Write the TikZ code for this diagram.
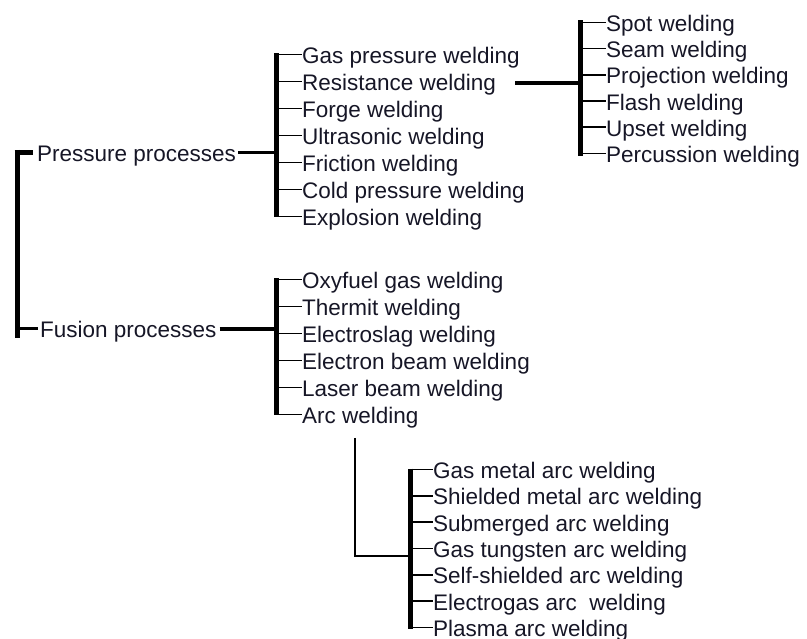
\documentclass[tikz,border=0pt]{standalone}
\usepackage{fontspec}
\setmainfont{Liberation Sans}
\usetikzlibrary{calc}
\definecolor{ink}{RGB}{22,22,38}
\begin{document}
\begin{tikzpicture}[x=1pt,y=-1pt,
  item/.style={anchor=west, inner sep=0pt, text height=18pt, text depth=0pt,
    font=\fontsize{22.5}{27}\selectfont, text=ink},
  bar/.style={line width=5pt, draw=black},
  stub/.style={line width=1.6pt, draw=black},
  link/.style={line width=4pt, draw=black},
  thinlink/.style={line width=2pt, draw=black}]
\useasboundingbox (0,0) rectangle (807,639);

% top level
\node[item] (press) at (37,152.5) {Pressure processes};
\node[item] (fus)   at (40,329)   {Fusion processes};
\coordinate (rootbar) at (17,0);
\draw[bar] (rootbar|-press.west) ++(0,-2.5) -- ($(rootbar|-fus.west)+(0,9)$);
\draw[bar] ($(rootbar|-press.west)+(-2.5,0)$) -- ($(press.west)+(-4,0)$);
\draw[line width=3pt] (rootbar|-fus.west) -- ($(fus.west)+(-2,0)$);

% pressure processes
\foreach \n/\t [count=\i from 0] in {pa/Gas pressure welding, pb/Resistance welding,
    pc/Forge welding, pd/Ultrasonic welding, pe/Friction welding,
    pf/Cold pressure welding, pg/Explosion welding}
  \node[item] (\n) at (302,{54.5+27*\i}) {\t};
\coordinate (pbar) at (276,0);
\draw[bar] ($(pbar|-pa.west)+(0,-1)$) -- ($(pbar|-pg.west)+(0,1)$);
\foreach \n in {pa,pb,pc,pd,pe,pf,pg}
  \draw[stub] (pbar|-\n.west) -- (\n.west);
\draw[line width=3pt] (press.east) ++(2,0) -- (pbar|-press.east);

% resistance welding
\foreach \n/\t [count=\i from 0] in {ra/Spot welding, rb/Seam welding,
    rc/Projection welding, rd/Flash welding, re/Upset welding,
    rf/Percussion welding}
  \node[item] (\n) at (606,{22.5+26.2*\i}) {\t};
\coordinate (rbar) at (580,0);
\draw[bar] ($(rbar|-ra.west)+(0,-2)$) -- ($(rbar|-rf.west)+(0,3)$);
\foreach \n in {ra,rb,rc,rd,re,rf}
  \draw[stub] (rbar|-\n.west) -- (\n.west);
\coordinate (rstart) at (515,83);
\draw[link] (rstart) -- (rbar|-rstart);

% fusion processes
\foreach \n/\t [count=\i from 0] in {fa/Oxyfuel gas welding, fb/Thermit welding,
    fc/Electroslag welding, fd/Electron beam welding, fe/Laser beam welding,
    ff/Arc welding}
  \node[item] (\n) at (302,{279.5+27*\i}) {\t};
\coordinate (fbar) at (276,0);
\draw[bar] ($(fbar|-fa.west)+(0,-1)$) -- ($(fbar|-ff.west)+(0,1)$);
\foreach \n in {fa,fb,fc,fd,fe,ff}
  \draw[stub] (fbar|-\n.west) -- (\n.west);
\draw[link] (fus.east) ++(3,0) -- (fbar|-fus.east);

% arc welding
\foreach \n/\t [count=\i from 0] in {aa/Gas metal arc welding,
    ab/Shielded metal arc welding, ac/Submerged arc welding,
    ad/Gas tungsten arc welding, ae/Self-shielded arc welding,
    af/Electrogas arc\ \ welding, ag/Plasma arc welding}
  \node[item] (\n) at (433,{469.5+26.3*\i}) {\t};
\coordinate (abar) at (410,0);
\draw[bar] ($(abar|-aa.west)+(0,-1)$) -- ($(abar|-ag.west)+(0,2)$);
\foreach \n in {aa,ab,ac,ad,ae,af,ag}
  \draw[stub] (abar|-\n.west) -- (\n.west);
\coordinate (adrop) at (355,438);
\coordinate (aknee) at (355,556);
\draw[thinlink] (adrop) -- (aknee) -- (abar|-aknee);
\end{tikzpicture}
\end{document}
